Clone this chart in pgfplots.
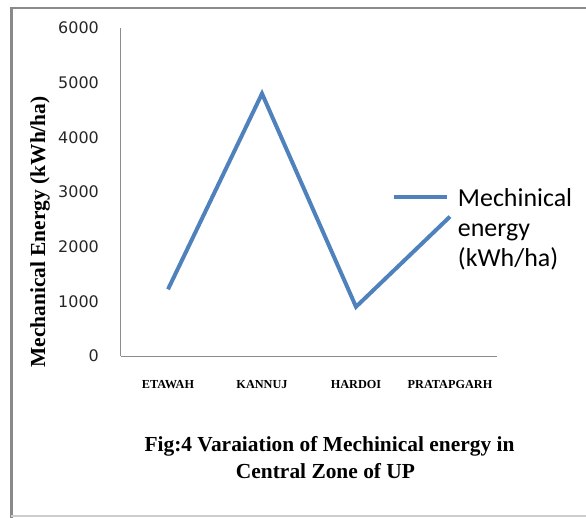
\documentclass[border=0pt]{standalone}
\usepackage{pgfplots}
\pgfplotsset{compat=1.18}
\usepackage{fontspec}
\setmainfont{Liberation Serif}
\newfontfamily\carlito{Carlito}
\newfontfamily\dejavu{DejaVu Sans}
\definecolor{xlblue}{HTML}{4F81BD}
\definecolor{framegray}{HTML}{8A8A8A}
\definecolor{axgray}{HTML}{8C8C8C}
\begin{document}
\begin{tikzpicture}
\begin{axis}[
  at={(0,0)}, anchor=south west,
  scale only axis, width=376bp, height=328bp,
  clip=false,
  xmin=-0.5, xmax=3.5, ymin=0, ymax=6000,
  xtick={0,1,2,3},
  xticklabels={ETAWAH,KANNUJ,HARDOI,PRATAPGARH},
  ytick={0,1000,...,6000},
  axis x line=bottom, axis y line=left,
  axis line style={-, draw=axgray, line width=1bp},
  major tick length=0pt,
  /pgf/number format/assume math mode=true,
  /pgf/number format/1000 sep={},
  yticklabel style={font=\dejavu\fontsize{16}{16}\selectfont, text=black!85, anchor=east, inner sep=0pt, xshift=-22bp},
  xticklabel style={font=\bfseries\fontsize{12.3}{12.3}\selectfont, anchor=base, inner sep=0pt, yshift=-32bp},
  ylabel={Mechanical Energy (kWh/ha)},
  ylabel style={at={(axis description cs:-0.2154,0.378)}, anchor=center, inner sep=0pt, font=\bfseries\fontsize{21.5}{21.5}\selectfont},
  legend style={at={(axis description cs:0.7207,0.5153)}, anchor=north west, draw=none, fill=none, inner sep=0pt, outer sep=0pt,
    font=\carlito\fontsize{26}{30}\selectfont, cells={align=left, inner sep=0pt, anchor=west}, column sep=7bp},
  legend image code/.code={\draw[#1, line cap=butt] (0bp,32bp) -- (53bp,32bp);},
]
\addplot[color=xlblue, line width=4bp, mark=none] coordinates {(0,1220) (1,4800) (2,900) (3,2550)};
\addlegendentry{Mechinical\\energy\\(kWh/ha)}
\node[anchor=base, font=\bfseries\fontsize{21.5}{21.5}\selectfont] at (axis description cs:0.5545,-0.2896) {Fig:4 Varaiation of Mechinical energy in};
\node[anchor=base, font=\bfseries\fontsize{21.5}{21.5}\selectfont] at (axis description cs:0.5439,-0.3720) {Central Zone of UP};
\coordinate (bl) at (axis description cs:-0.3218,-0.4909);
\coordinate (tr) at (axis description cs:1.2367,1.0854);
\end{axis}
\pgfresetboundingbox
\useasboundingbox (bl) rectangle (tr);
% outer frame (page-relative)
\draw[framegray, line width=2.5bp] ([xshift=11.5bp,yshift=-10bp]bl) -- ([xshift=11.5bp,yshift=-8bp]bl |- tr);
\fill[framegray] ([xshift=10.25bp,yshift=-6.7bp]bl |- tr) rectangle ([xshift=20bp,yshift=-9.3bp]tr);
\draw[black!20, line width=1.2bp] ([xshift=11.5bp,yshift=1bp]bl) -- ([xshift=20bp,yshift=1bp]bl -| tr);
\end{tikzpicture}
\end{document}
